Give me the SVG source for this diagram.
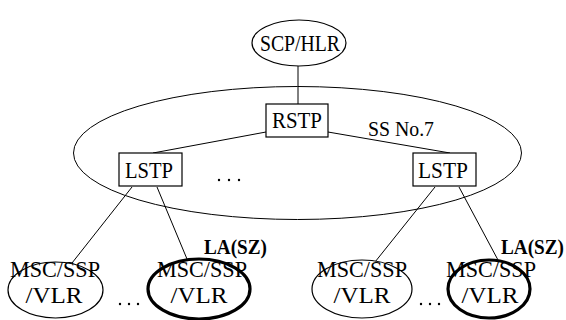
<svg xmlns="http://www.w3.org/2000/svg" width="566" height="320" viewBox="0 0 566 320">
<style>
.n{fill:#fff;stroke:#000;stroke-width:1.2}
.b{fill:none;stroke:#000;stroke-width:3.2}
text{font-family:'Liberation Serif','Times New Roman',serif;fill:#000}
.t{font-size:23px;text-anchor:middle}
.lb{font-size:20px;font-weight:bold}
.s{font-size:21px}
.c{stroke:#000;stroke-width:1;fill:none}
.d{fill:#000}
</style>
<rect width="566" height="320" fill="#fff"/>
<g id="ss7">
<ellipse cx="297.5" cy="153" rx="224" ry="66.5" class="c"/>
<text class="s" x="368" y="136" textLength="66" lengthAdjust="spacingAndGlyphs">SS No.7</text>
</g>
<g id="connectors">
<line x1="298" y1="66" x2="298" y2="104" class="c"/>
<line x1="266" y1="132" x2="153" y2="153" class="c"/>
<line x1="328" y1="132" x2="450" y2="153" class="c"/>
<line x1="132" y1="187" x2="72" y2="263" class="c"/>
<line x1="157" y1="187" x2="187" y2="259" class="c"/>
<line x1="435" y1="187" x2="375" y2="262" class="c"/>
<line x1="459" y1="187" x2="498" y2="260" class="c"/>
</g>
<g id="scp">
<ellipse cx="299" cy="43" rx="47" ry="23" class="n"/>
<text class="t" x="300" y="51" textLength="80" lengthAdjust="spacingAndGlyphs">SCP/HLR</text>
</g>
<g id="rstp">
<rect x="266" y="104" width="62" height="33" class="n"/>
<text class="t" x="297" y="128" textLength="50" lengthAdjust="spacingAndGlyphs">RSTP</text>
</g>
<g id="lstp1">
<rect x="119" y="153" width="63" height="33" class="n"/>
<text class="t" x="149" y="178" textLength="48" lengthAdjust="spacingAndGlyphs">LSTP</text>
</g>
<g id="lstp2">
<rect x="413" y="153" width="63" height="33" class="n"/>
<text class="t" x="443" y="178" textLength="50" lengthAdjust="spacingAndGlyphs">LSTP</text>
</g>
<g id="dots-mid">
<circle cx="219" cy="180" r="1.2" class="d"/><circle cx="229" cy="180" r="1.2" class="d"/><circle cx="239" cy="180" r="1.2" class="d"/>
</g>
<g id="msc1">
<ellipse cx="55.5" cy="290" rx="47.5" ry="28" class="n"/>
<text class="t" x="55" y="277" textLength="90" lengthAdjust="spacingAndGlyphs">MSC/SSP</text>
<text class="t" x="54" y="303" textLength="57" lengthAdjust="spacingAndGlyphs">/VLR</text>
</g>
<g id="dots-left">
<circle cx="120" cy="304" r="1.2" class="d"/><circle cx="129" cy="304" r="1.2" class="d"/><circle cx="138" cy="304" r="1.2" class="d"/>
</g>
<g id="msc2">
<ellipse cx="199" cy="289" rx="51" ry="30" class="b"/>
<text class="t" x="202" y="277" textLength="90" lengthAdjust="spacingAndGlyphs">MSC/SSP</text>
<text class="t" x="199" y="303" textLength="57" lengthAdjust="spacingAndGlyphs">/VLR</text>
<text class="lb" x="204" y="254" textLength="63" lengthAdjust="spacingAndGlyphs">LA(SZ)</text>
</g>
<g id="msc3">
<ellipse cx="362" cy="289" rx="50" ry="29" class="n"/>
<text class="t" x="362" y="277" textLength="90" lengthAdjust="spacingAndGlyphs">MSC/SSP</text>
<text class="t" x="362" y="303" textLength="57" lengthAdjust="spacingAndGlyphs">/VLR</text>
</g>
<g id="dots-right">
<circle cx="421" cy="304" r="1.2" class="d"/><circle cx="430" cy="304" r="1.2" class="d"/><circle cx="439" cy="304" r="1.2" class="d"/>
</g>
<g id="msc4">
<ellipse cx="489" cy="289" rx="41" ry="29" class="b"/>
<text class="t" x="491" y="277" textLength="90" lengthAdjust="spacingAndGlyphs">MSC/SSP</text>
<text class="t" x="490" y="303" textLength="57" lengthAdjust="spacingAndGlyphs">/VLR</text>
<text class="lb" x="501" y="254" textLength="63" lengthAdjust="spacingAndGlyphs">LA(SZ)</text>
</g>
</svg>
